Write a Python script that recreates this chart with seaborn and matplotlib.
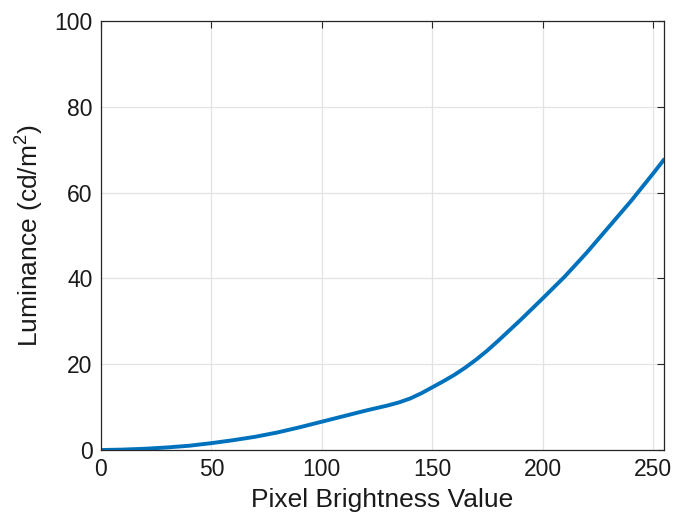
import matplotlib
matplotlib.use("Agg")
import matplotlib.pyplot as plt
import seaborn as sns
import pandas as pd

pixel_values = [0, 10, 20, 30, 40, 50, 60, 70, 80, 90, 100, 110, 120, 130,
                135, 140, 145, 150, 155, 160, 165, 170, 175, 180, 190, 200,
                210, 220, 230, 240, 250, 255]
luminance = [0, 0.1, 0.3, 0.6, 1.0, 1.6, 2.3, 3.1, 4.1, 5.3, 6.6, 7.9, 9.2,
             10.4, 11.1, 12.0, 13.2, 14.6, 16.0, 17.5, 19.2, 21.1, 23.2, 25.5,
             30.3, 35.3, 40.4, 46.0, 52.0, 58.0, 64.4, 67.7]
x_ticks = [0, 50, 100, 150, 200, 250]
y_ticks = [0, 20, 40, 60, 80, 100]

sns.set_theme(style="whitegrid")
plt.rcParams['font.family'] = ['Liberation Sans', 'DejaVu Sans']
plt.rcParams['mathtext.fontset'] = 'custom'
plt.rcParams['mathtext.rm'] = 'Liberation Sans'
plt.rcParams['mathtext.it'] = 'Liberation Sans'

df = pd.DataFrame({"Pixel": pixel_values, "Luminance": luminance})

fig = plt.figure(figsize=(6.76, 5.24), dpi=100)
ax = fig.add_axes([0.1494, 0.1412, 0.8328, 0.8187])

sns.lineplot(data=df, x="Pixel", y="Luminance", ax=ax, color="#0072BD",
             linewidth=2.8)

ax.set_xlim(0, 255)
ax.set_ylim(0, 100)
ax.set_xticks(x_ticks)
ax.set_yticks(y_ticks)
ax.grid(True, color="#e3e3e3", linewidth=0.9)
for s in ax.spines.values():
    s.set_visible(True)
    s.set_color("#262626")
    s.set_linewidth(0.9)
ax.tick_params(direction="in", length=5, width=0.8, colors="#262626",
               labelsize=16.5, top=True, right=True, labeltop=False,
               labelright=False, pad=6)
ax.tick_params(axis="both", labelcolor="#1a1a1a")
ax.set_xlabel("Pixel Brightness Value", fontsize=19, color="#1a1a1a", labelpad=5)
ax.set_ylabel("Luminance (cd/m$^{\\mathrm{2}}$)", fontsize=19, color="#1a1a1a", labelpad=6)

fig.savefig("out.png", dpi=100, facecolor="white")
